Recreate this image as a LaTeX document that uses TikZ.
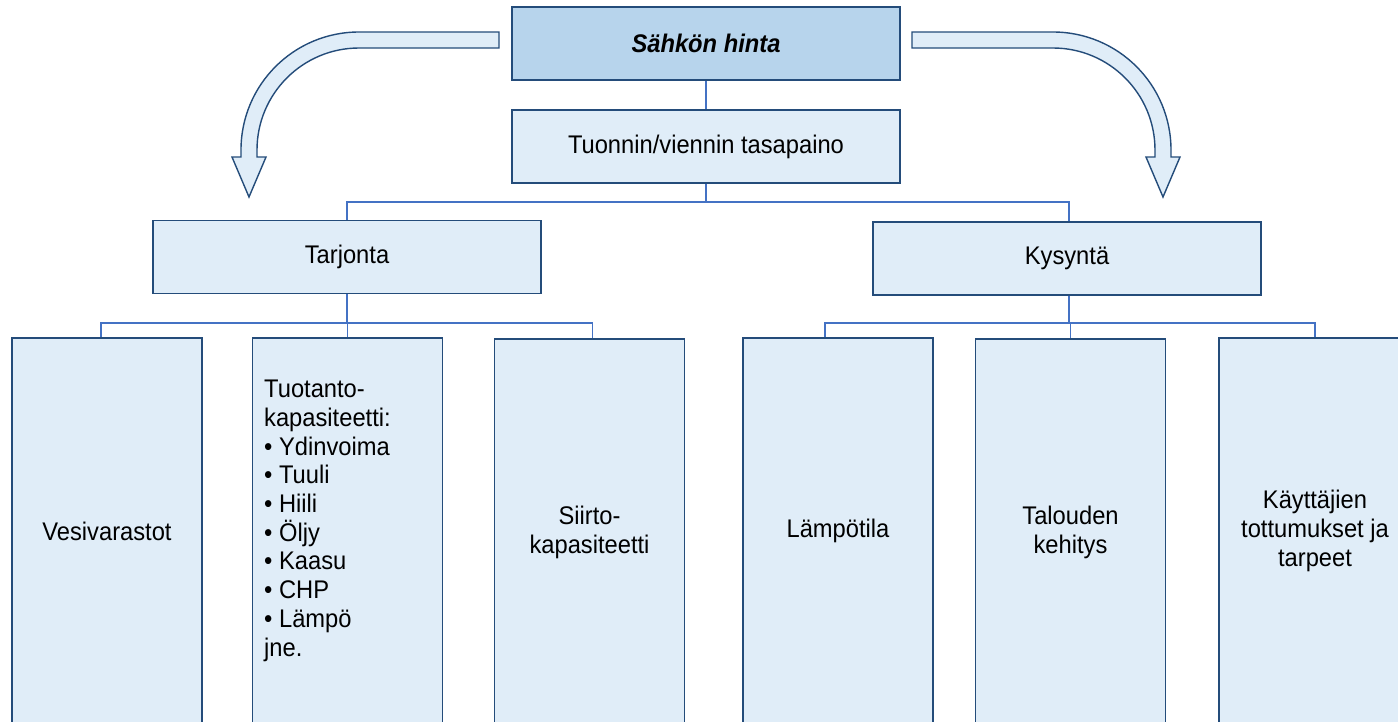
\documentclass[tikz,border=0pt]{standalone}
\usepackage{fontspec}
\setmainfont{Liberation Sans}[FakeStretch=0.93]
\definecolor{boxfill}{RGB}{224,237,248}
\definecolor{topfill}{RGB}{183,212,236}
\definecolor{boxline}{RGB}{36,76,122}
\definecolor{conline}{RGB}{68,114,196}
\begin{document}
\begin{tikzpicture}[x=1pt,y=-1pt,
  every node/.style={font=\fontsize{25.5}{29}\selectfont, inner sep=0pt},
  box/.style={draw=boxline, line width=1.8pt, fill=boxfill, rectangle, align=center},
  headbox/.style={box, minimum width=388pt, minimum height=73pt},
  tallbox/.style={box, minimum width=190pt, minimum height=386pt},
  conn/.style={draw=conline, line width=1.8pt},
  bigarrow/.style={draw=boxline, line width=1.4pt, fill=boxfill, line join=miter}]
\useasboundingbox (0,0) rectangle (1398,721);
\clip (0,0) rectangle (1398,721);
\fill[white] (0,0) rectangle (1398,721);

% curved arrows
\path[bigarrow] (499,32) -- (359,32) .. controls (293.8,32) and (241,84.8) .. (241,150)
  -- (241,157) -- (232,157) -- (249,197) -- (266,157) -- (257,157) -- (257,150)
  .. controls (257,93.7) and (302.7,48) .. (359,48) -- (499,48) -- cycle;
\path[bigarrow] (912,32) -- (1053,32) .. controls (1118.2,32) and (1171,84.8) .. (1171,150)
  -- (1171,157) -- (1180,157) -- (1163,197) -- (1146,157) -- (1155,157) -- (1155,150)
  .. controls (1155,93.7) and (1109.3,48) .. (1053,48) -- (912,48) -- cycle;

% nodes
\node[headbox, fill=topfill] (top) at (706,43.5) {\textbf{\textit{Sähkön hinta}}};
\node[headbox] (tuo) at (706,146.5) {Tuonnin/viennin tasapaino};
\node[headbox] (tar) at (347,257) {Tarjonta};
\node[headbox] (kys) at (1067,258.5) {Kysyntä};

\node[tallbox] (b1) at (107,531) {Vesivarastot};
\node[tallbox] (b2) at (347.5,531) {};
\node[anchor=north west, align=left, font=\fontsize{25.5}{28.7}\selectfont] (b2t) at (264,380)
  {Tuotanto-\\kapasiteetti:\\• Ydinvoima\\• Tuuli\\• Hiili\\• Öljy\\• Kaasu\\• CHP\\• Lämpö\\jne.};
\node[tallbox] (b3) at (589.5,532) {Siirto-\\kapasiteetti};
\node[tallbox] (b4) at (838,531) {Lämpötila};
\node[tallbox] (b5) at (1070.5,532) {Talouden\\kehitys};
\node[tallbox, minimum width=192pt] (b6) at (1315,531) {Käyttäjien\\tottumukset ja\\tarpeet};

% connectors
\coordinate (mid) at (706,202);
\coordinate (bl) at (347,323);
\coordinate (br) at (1069,323);
\path[conn] (top.south) -- (tuo.north);
\path[conn] (tuo.south) -- (mid) -| (tar.north);
\path[conn] (mid) -| (1069,0 |- kys.north);
\path[conn] (tar.south) -- (bl) -| ([xshift=-6pt]b1.north);
\path[conn] (bl) -| (b2.north);
\path[conn] (bl) -| ([xshift=3pt]b3.north);
\path[conn] (kys.south -| br) -- (br) -| ([xshift=-13pt]b4.north);
\path[conn] (br) -| (b5.north);
\path[conn] (br) -| (b6.north);
\end{tikzpicture}
\end{document}
